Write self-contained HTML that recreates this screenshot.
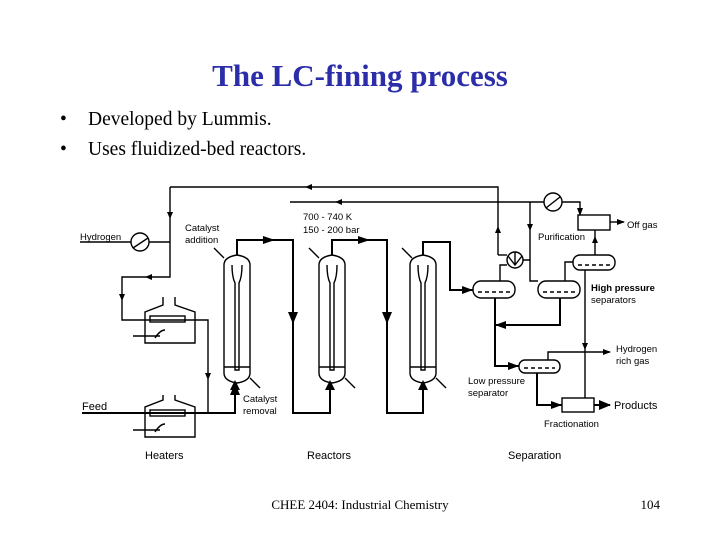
<!DOCTYPE html>
<html><head><meta charset="utf-8"><style>
html,body{margin:0;padding:0;background:#fff;width:720px;height:540px;overflow:hidden}
svg{display:block}
</style></head><body>
<svg width="720" height="540" viewBox="0 0 720 540" xmlns="http://www.w3.org/2000/svg">
<defs>
<marker id="a" markerWidth="8" markerHeight="8" refX="7" refY="4" orient="auto" markerUnits="userSpaceOnUse"><path d="M0,1 L8,4 L0,7 Z" fill="#000"/></marker>
<marker id="b" markerWidth="12" markerHeight="10" refX="11" refY="5" orient="auto" markerUnits="userSpaceOnUse"><path d="M0,0 L12,5 L0,10 Z" fill="#000"/></marker>
</defs>
<text x="360" y="86" text-anchor="middle" font-family="Liberation Serif, serif" font-weight="bold" font-size="31" fill="#2b2ea8">The LC-fining process</text>
<g font-family="Liberation Serif, serif" font-size="19.5" fill="#000">
<text x="60" y="125">•</text><text x="88" y="125">Developed by Lummis.</text>
<text x="60" y="155">•</text><text x="88" y="155">Uses fluidized-bed reactors.</text>
<text x="360" y="509" text-anchor="middle" font-size="13">CHEE 2404: Industrial Chemistry</text>
<text x="660" y="509" text-anchor="end" font-size="13">104</text>
</g>
<g fill="none" stroke="#000" stroke-width="1.4">
<path d="M80,242 H131"/><circle cx="140" cy="242" r="9"/><path d="M133,248 L148,238"/>
<path d="M149,242 H170"/>
<path d="M170,187 H498 V255"/>
<path d="M170,187 V277 H122 V320 H208 V413"/>
<path d="M290,202 H544"/><circle cx="553" cy="202" r="9"/><path d="M546,208 L560,197"/>
<path d="M562,202 H580 V215" marker-end="url(#a)"/>
<rect x="578" y="215" width="32" height="15"/>
<path d="M610,222 H624" marker-end="url(#a)"/>
<path d="M163,297 V305 L145,312 V343 H195 V312 L175,305 V297"/>
<rect x="150" y="316" width="35" height="6"/>
<path d="M133,336 H160 M155,338 q5,-8 10,-8"/>
<path d="M163,395 V400 L145,407 V437 H195 V407 L175,400 V395"/>
<rect x="150" y="410" width="35" height="6"/>
<path d="M133,430 H160 M155,432 q5,-8 10,-8"/>
</g>
<g fill="#000">
<path d="M305,187 l7,-3 v6z M335,202 l7,-3 v6z M170,219 l-3,-7 h6z M145,277 l7,-3 v6z M122,301 l-3,-7 h6z M208,380 l-3,-7 h6z M498,226 l-3,7 h6z M530,231 l-3,-7 h6z M585,350 l-3,-7 h6z M595,236 l-3,7 h6z"/>
</g>
<g fill="none" stroke="#000" stroke-width="2">
<path d="M82,413 H235 V384" marker-end="url(#b)"/>
<path d="M237,255 V240 H293 V413 H330 V384"/>
<path d="M332,255 V240 H387 V413 H423 V384"/>
<path d="M423,255 V242 H450 V290 H473"/>
<path d="M495,298 V366 H519"/>
<path d="M560,298 V325 H495"/>
<path d="M537,373 V405 H562"/>
<path d="M594,405 H610" marker-end="url(#b)"/>
</g>
<g fill="#000">
<path d="M275,240 l-12,-4 v8z M370,240 l-12,-4 v8z M288,312 l5,12 l5,-12z M382,312 l5,12 l5,-12z M230,390 l5,-10 l5,10z M325,390 l5,-10 l5,10z M418,390 l5,-10 l5,10z M473,290 l-11,-4 v8z M495,325 l11,-4 v8z M519,366 l-11,-4 v8z M562,405 l-11,-4 v8z"/>
</g>
<g fill="none" stroke="#000" stroke-width="1.4">
<path d="M224,265 q0,-8 13,-10 q13,2 13,10 V373 q0,8 -13,10 q-13,-2 -13,-10 Z"/>
<path d="M232,265 q0,12 3,18 V370 H239 V283 q3,-6 3,-18"/><path d="M224,367 H250"/>
<path d="M319,265 q0,-8 13,-10 q13,2 13,10 V373 q0,8 -13,10 q-13,-2 -13,-10 Z"/>
<path d="M327,265 q0,12 3,18 V370 H334 V283 q3,-6 3,-18"/><path d="M319,367 H345"/>
<path d="M410,265 q0,-8 13,-10 q13,2 13,10 V373 q0,8 -13,10 q-13,-2 -13,-10 Z"/>
<path d="M418,265 q0,12 3,18 V370 H425 V283 q3,-6 3,-18"/><path d="M410,367 H436"/>
<path d="M214,248 l10,10 M250,378 l10,10 M309,248 l10,10 M345,378 l10,10 M402,248 l10,10 M436,378 l10,10"/>
<rect x="473" y="281" width="42" height="17" rx="8"/><path d="M478,292 h32" stroke-dasharray="4,3"/>
<rect x="538" y="281" width="42" height="17" rx="8"/><path d="M543,292 h32" stroke-dasharray="4,3"/>
<rect x="573" y="255" width="42" height="15" rx="7"/><path d="M578,265 h32" stroke-dasharray="4,3"/>
<rect x="519" y="360" width="41" height="13" rx="6"/><path d="M524,368 h31" stroke-dasharray="4,3"/>
<rect x="562" y="398" width="32" height="14"/>
<circle cx="515" cy="260" r="8"/><path d="M508,256 L515,265 L522,256 M515,252 V265"/>
<path d="M500,281 V265 H507"/><path d="M523,260 H530 V281 H538"/>
<path d="M530,202 V260"/>
<path d="M498,255 H507"/>
<path d="M565,281 V262 H573"/>
<path d="M595,255 V230"/>
<path d="M585,270 V398"/>
<path d="M548,360 V352 H610" marker-end="url(#a)"/>
</g>
<g font-family="Liberation Sans, sans-serif" font-size="9.5" fill="#000">
<text x="80" y="240">Hydrogen</text>
<text x="185" y="231">Catalyst</text><text x="185" y="243">addition</text>
<text x="303" y="220">700 - 740 K</text><text x="303" y="233">150 - 200 bar</text>
<text x="627" y="228">Off gas</text>
<text x="538" y="240">Purification</text>
<text x="591" y="291" font-weight="bold">High pressure</text><text x="591" y="303">separators</text>
<text x="616" y="352">Hydrogen</text><text x="616" y="364">rich gas</text>
<text x="468" y="384">Low pressure</text><text x="468" y="396">separator</text>
<text x="614" y="409" font-size="11">Products</text>
<text x="544" y="427">Fractionation</text>
<text x="243" y="402">Catalyst</text><text x="243" y="414">removal</text>
<text x="82" y="410" font-size="11">Feed</text>
<text x="145" y="459" font-size="11">Heaters</text>
<text x="307" y="459" font-size="11">Reactors</text>
<text x="508" y="459" font-size="11">Separation</text>
</g>
</svg>
</body></html>
